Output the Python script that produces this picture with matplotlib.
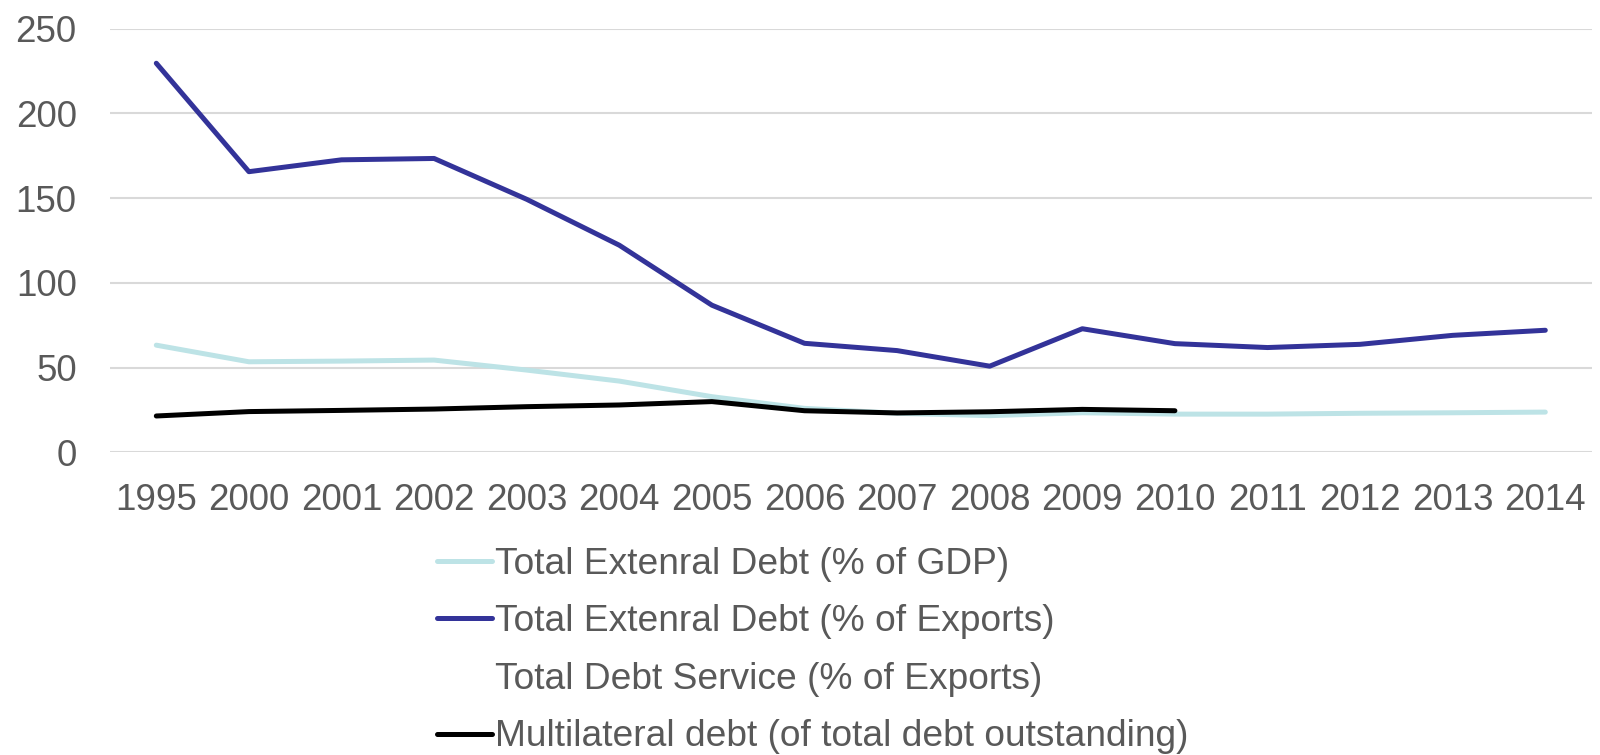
import matplotlib
matplotlib.use("Agg")
import matplotlib.pyplot as plt
import numpy as np

years = ["1995", "2000", "2001", "2002", "2003", "2004", "2005", "2006",
         "2007", "2008", "2009", "2010", "2011", "2012", "2013", "2014"]
debt_gdp = [63.2, 53.4, 53.8, 54.4, 48.5, 42.0, 32.8, 25.9,
            23.0, 21.6, 23.3, 22.5, 22.5, 23.0, 23.3, 23.7]
debt_exports = [229.6, 165.6, 172.6, 173.4, 149.3, 122.2, 86.8, 64.3,
                60.0, 50.8, 72.9, 64.1, 61.8, 63.7, 69.0, 72.0]
debt_service = [np.nan] * 16
multilateral = [21.4, 24.0, 24.7, 25.5, 26.9, 27.9, 29.9, 24.5,
                23.2, 23.9, 25.3, 24.5, np.nan, np.nan, np.nan, np.nan]
labels = ["Total Extenral Debt (% of GDP)", "Total Extenral Debt (% of Exports)",
          "Total Debt Service (% of Exports)", "Multilateral debt (of total debt outstanding)"]
yticks = [0, 50, 100, 150, 200, 250]

plt.rcParams['font.family'] = ['Liberation Sans', 'DejaVu Sans']
fig = plt.figure(figsize=(16, 7.55), dpi=100)
ax = fig.add_axes([0.06875, 0.401, 0.926, 0.561])
x = np.arange(len(years))
lw = 3.6
l1, = ax.plot(x, debt_gdp, color="#BDE3E6", lw=lw, solid_capstyle="round", label=labels[0])
l2, = ax.plot(x, debt_exports, color="#333399", lw=lw, solid_capstyle="round", label=labels[1])
l3, = ax.plot(x, debt_service, color="white", lw=lw, label=labels[2])
l4, = ax.plot(x, multilateral, color="black", lw=lw, solid_capstyle="round", label=labels[3])

ax.set_xlim(-0.5, len(years) - 0.5)
ax.set_ylim(0, 250)
ax.set_yticks(yticks)
ax.set_xticks(x)
ax.set_xticklabels(years)
ax.yaxis.grid(True, color="#D9D9D9", lw=1.5)
ax.set_axisbelow(True)
for s in ax.spines.values():
    s.set_visible(False)
ax.tick_params(axis="both", length=0, labelsize=26.5, labelcolor="#595959")
ax.tick_params(axis="x", pad=22)
ax.tick_params(axis="y", pad=24)

leg = fig.legend(handles=[l1, l2, l3, l4], loc="upper left",
                 bbox_to_anchor=(0.273, 0.276), frameon=False, fontsize=26.7,
                 handlelength=1.5, handletextpad=0.08, labelspacing=0.61,
                 borderaxespad=0, borderpad=0)
for t in leg.get_texts():
    t.set_color("#595959")

fig.savefig("out.png", dpi=100)
